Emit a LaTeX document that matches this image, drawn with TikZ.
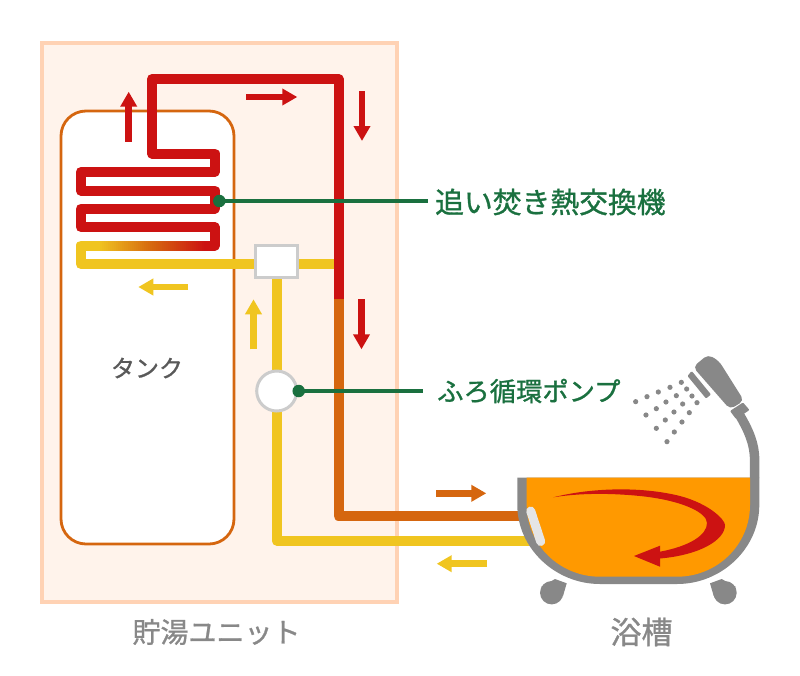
\documentclass[tikz,border=0pt]{standalone}
\usepackage{fontspec}
\setmainfont[FakeBold=1]{Noto Sans CJK JP}
\newfontfamily\medjp[FakeBold=1]{Noto Sans CJK JP}
\usetikzlibrary{arrows.meta}
\definecolor{cred}{HTML}{CC1212}
\definecolor{corange}{HTML}{D5660F}
\definecolor{cyellow}{HTML}{F0C520}
\definecolor{cgreen}{HTML}{1A703F}
\definecolor{cgray}{HTML}{888888}
\definecolor{cframe}{HTML}{FFD2B4}
\definecolor{cframefill}{HTML}{FFF3EB}
\definecolor{cwater}{HTML}{FF9900}
\definecolor{cbox}{HTML}{CCCCCC}
\tikzset{
  pipe/.style={line width=10pt,line join=round},
  flow/.style={line width=6.5pt,-{Triangle[length=15pt,width=16pt]}},
  leader/.style={draw=cgreen,line width=3.8pt},
  dot/.style={circle,fill=cgreen,minimum size=12.5pt,inner sep=0pt},
  sprayd/.style={fill=cgray},
  lab/.style={inner sep=0pt,anchor=west},
}
\begin{document}
\begin{tikzpicture}[x=1pt,y=-1pt]
\useasboundingbox (0,0) rectangle (800,675);
% unit frame
\draw[cframe,fill=cframefill,line width=4pt] (42,43) rectangle (397,602);
% tank
\node[draw=corange,fill=white,line width=2.8pt,rounded corners=25pt,minimum width=173pt,minimum height=433pt,inner sep=0pt] (tank) at (147.5,327.5) {};
\node[text=black!65,font=\medjp\fontsize{24}{24}\selectfont] (tanklabel) at (147,368) {タンク};
% flow arrows
\draw[flow,cred] (128.7,141.7) -- (128.7,91.7);
\draw[flow,cred] (246.3,97) -- (297.3,97);
\draw[flow,cred] (362,91) -- (362,141);
\draw[flow,cred] (361.5,299) -- (361.5,349.3);
\draw[flow,cyellow] (188,287) -- (138.3,287);
\draw[flow,cyellow] (253.5,349.3) -- (253.5,299.3);
\draw[flow,corange] (436.3,493.3) -- (486.3,493.3);
\draw[flow,cyellow] (487,563.7) -- (436.7,563.7);
% yellow return pipes
\draw[pipe,cyellow] (100,245.5) -- (80.7,245.5) -- (80.7,264) -- (338,264);
\draw[pipe,cyellow] (276.7,262) -- (276.7,540.7) -- (530,540.7);
% red coil
\draw[pipe,cred] (338.5,299) -- (338.5,79) -- (152,79) -- (152,153.5) -- (214.5,153.5) -- (214.5,172) -- (80.7,172) -- (80.7,190.5) -- (214.5,190.5) -- (214.5,208.7) -- (80.7,208.7) -- (80.7,227) -- (214.5,227) -- (214.5,245.5) -- (200,245.5);
% gradient stretch of the coil
\foreach \i in {0,...,53}{
  \pgfmathsetmacro{\px}{98+2*\i}
  \pgfmathsetmacro{\pxe}{\px+3}
  \pgfmathtruncatemacro{\pa}{\i<27 ? 100-\i*100/27 : 0}
  \pgfmathtruncatemacro{\pb}{\i<27 ? 0 : (\i-27)*100/26}
  \colorlet{cmixa}{cyellow!\pa!corange}
  \colorlet{cmixb}{cred!\pb!cmixa}
  \fill[cmixb] (\px,240.5) rectangle (\pxe,250.5);
}
% orange return
\draw[pipe,corange] (338.5,299) -- (338.5,516) -- (530,516);
% valve and pump
\node[draw=cbox,fill=white,line width=3pt,minimum width=42pt,minimum height=32pt,inner sep=0pt] (valve) at (276.7,261.7) {};
\node[circle,draw=cbox,fill=white,line width=3pt,minimum size=40pt,inner sep=0pt] (pump) at (276.7,391) {};
% labels
\node[lab,text=cgreen,font=\medjp\fontsize{28.8}{29}\selectfont] (hxlabel) at (435,202) {追い焚き熱交換機};
\node[lab,text=cgreen,font=\medjp\fontsize{26.3}{27}\selectfont] (pumplabel) at (437,391) {ふろ循環ポンプ};
\node[text=cgray,font=\medjp\fontsize{28}{28}\selectfont] (unitlabel) at (216.5,632) {貯湯ユニット};
\node[text=cgray,font=\medjp\fontsize{31}{31}\selectfont] (tublabel) at (641.5,632) {浴槽};
% leaders
\node[dot] (hxdot) at (219.3,201) {};
\node[dot] (pumpdot) at (298.7,391) {};
\coordinate (hxend) at (428,201);
\coordinate (pumpend) at (423.3,391);
\draw[leader] (hxdot.center) -- (hxend);
\draw[leader] (pumpdot.center) -- (pumpend);
% feet
\fill[cgray] (551.7,592.7) circle (11.7);
\fill[cgray] (541,587) -- (555,579) -- (566.7,583.3) -- (563,596) -- cycle;
\fill[cgray] (725,592.7) circle (11.7);
\fill[cgray] (736,587) -- (721.7,579) -- (710,583.3) -- (713.7,596) -- cycle;
% tub
\fill[cgray] (517.3,477.7) -- (517.3,505) .. controls (517.3,548) and (555,584) .. (600,584) -- (677,584) .. controls (722,584) and (759.3,548) .. (759.3,505) -- (759.3,477.7) -- cycle;
\fill[cwater] (526.7,477.7) -- (526.7,505) .. controls (526.7,545) and (560,576.7) .. (600,576.7) -- (677,576.7) .. controls (717,576.7) and (750,545) .. (750,505) -- (750,477.7) -- cycle;
\draw[line width=9pt,line cap=round,color=black!10] (530.7,511) -- (540.7,541.5);
% swirl
\fill[cred] (553.3,497.3) .. controls (590,488) and (640,486) .. (680,496) .. controls (710,504) and (725,520) .. (725,525) .. controls (725,540) and (700,555) .. (660,558.5) -- (660,566.7) -- (634,556) -- (660,545.7) -- (660,551.7) .. controls (690,546) and (707,535) .. (707,523) .. controls (707,512) and (680,500) .. (640,496) .. controls (610,493) and (580,493) .. (553.3,497.3) -- cycle;
% shower
\draw[cgray,line width=9.5pt] (754.6,478) -- (754.6,460) .. controls (754.6,444) and (749,431) .. (739,414);
\fill[cgray,rounded corners=1pt] (730,411) -- (743,402.5) -- (749.5,410) -- (736,419) -- cycle;
\fill[cgray,rounded corners=5pt] (693,367) -- (708,354.5) -- (719,361) -- (744,400.7) -- (730,409.3) -- cycle;
\fill[cgray,rounded corners=1pt] (691.7,371) -- (711,394.5) -- (706,398.5) -- (687.5,376) -- cycle;
\foreach \p in {(407,155),(441,140),(475,126),(510,112),(544,97),(560,117),(576,138),(591,158),(529,137),(498,156),(469,176),(438,195),(548,162),(522,186),(496,210),(469,235),(568,188),(546,216),(523,246),(501,275)}{
  \begin{scope}[shift={(500,350)},x=0.3333pt,y=-0.3333pt]
  \fill[sprayd] \p circle (2.6pt);
  \end{scope}
}
\end{tikzpicture}
\end{document}
